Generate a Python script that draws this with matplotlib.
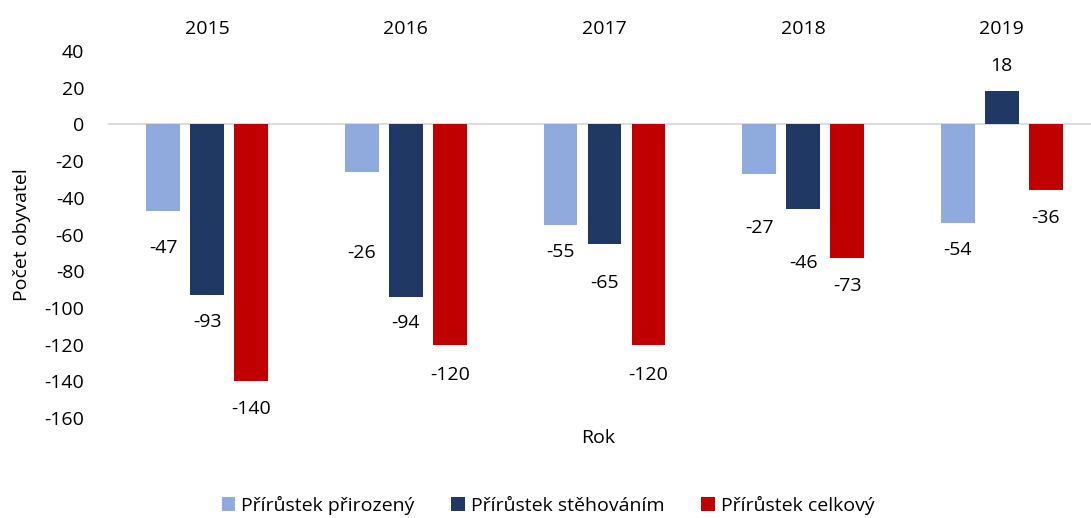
import matplotlib
matplotlib.use("Agg")
import matplotlib.pyplot as plt
import numpy as np

years = ["2015", "2016", "2017", "2018", "2019"]
series_names = ["Přírůstek přirozený", "Přírůstek stěhováním", "Přírůstek celkový"]
prirozeny = [-47, -26, -55, -27, -54]
stehovanim = [-93, -94, -65, -46, 18]
celkovy = [-140, -120, -120, -73, -36]
yticks = [40, 20, 0, -20, -40, -60, -80, -100, -120, -140, -160]

colors = ["#8FAADC", "#203864", "#C00000"]
# label offsets (pixels beyond bar end), style only
label_offsets = [
    [37, 81, 27, 54, 27],
    [27, 26, 39, 54, 25],
    [28, 30, 30, 28, 28],
]

FS = 14
plt.rcParams['font.family'] = ['Open Sans', 'DejaVu Sans']
fig = plt.figure(figsize=(10.91, 5.18), dpi=100)
W, H = 1091, 518
ax = fig.add_axes([108 / W, 1 - 418 / H, 1 - 108 / W, (418 - 51) / H])

x = np.arange(len(years))
width = 0.171
step = 0.2216
all_series = [prirozeny, stehovanim, celkovy]
px_per_unit = (418 - 51) / 200.0
for i, (vals, c, name) in enumerate(zip(all_series, colors, series_names)):
    xs = x + (i - 1) * step
    ax.bar(xs, vals, width, color=c, label=name, zorder=3)
    for xi, v, off in zip(xs, vals, label_offsets[i]):
        sign = 1 if v >= 0 else -1
        ypos = v + sign * off / px_per_unit
        ax.text(xi, ypos, str(v), ha='center', va='center', fontsize=FS, color='#000000')

ax.axhline(0, color='#D9D9D9', lw=1.3, zorder=2)
ax.set_ylim(-160, 40)
ax.set_xlim(-0.5, -0.5 + (W - 108) / 198.6)
ax.set_yticks(yticks)
ax.set_yticklabels([str(t) for t in yticks])
ax.tick_params(axis='y', length=0, pad=17, labelsize=FS)
ax.xaxis.tick_top()
ax.set_xticks(x)
ax.set_xticklabels(years)
ax.tick_params(axis='x', length=0, pad=9, labelsize=FS)
for s in ax.spines.values():
    s.set_visible(False)

fig.text(598 / W, 1 - 438 / H, "Rok", ha='center', va='center', fontsize=FS)
fig.text(22 / W, 1 - 235 / H, "Počet obyvatel", ha='center', va='center', rotation=90, fontsize=FS)

handles, labels = ax.get_legend_handles_labels()
fig.legend(handles, labels, loc='center', bbox_to_anchor=(548 / W, 1 - 505 / H), ncol=3,
           frameon=False, fontsize=FS, handlelength=0.7, handleheight=0.7,
           handletextpad=0.3, columnspacing=1.9)

fig.savefig("out.png", dpi=100)
